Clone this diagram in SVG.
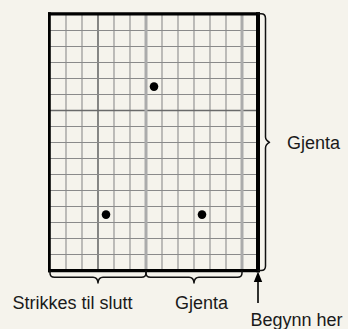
<svg xmlns="http://www.w3.org/2000/svg" width="348" height="329" viewBox="0 0 348 329">
  <style>
    .v { stroke: #9c9c9c; stroke-width: 1.3; }
    .h { stroke: #8a8a8a; stroke-width: 1.2; }
    .dk { stroke: #6a6a6a; stroke-width: 1.6; }
    .rep { stroke: #ababab; stroke-width: 3; }
    .brace { fill: none; stroke: #111; stroke-width: 1.5; stroke-linejoin: round; stroke-linecap: round; }
    .lbl { font-family: "Liberation Sans", Arial, sans-serif; font-size: 18px; fill: #1a1a1a; }
    .dot { fill: #000; }
  </style>
  <rect width="348" height="329" fill="#f5f3ec"/>
  <g id="grid">
    <g id="vlines">
      <line class="v" x1="66" y1="14" x2="66" y2="270"/>
      <line class="v" x1="82" y1="14" x2="82" y2="270"/>
      <line class="dk" x1="98" y1="14" x2="98" y2="270"/>
      <line class="v" x1="114" y1="14" x2="114" y2="270"/>
      <line class="v" x1="130" y1="14" x2="130" y2="270"/>
      <line class="v" x1="162" y1="14" x2="162" y2="270"/>
      <line class="v" x1="178" y1="14" x2="178" y2="270"/>
      <line class="v" x1="194" y1="14" x2="194" y2="270"/>
      <line class="v" x1="210" y1="14" x2="210" y2="270"/>
      <line class="v" x1="226" y1="14" x2="226" y2="270"/>
    </g>
    <g id="hlines">
      <line class="h" x1="50" y1="30.5" x2="258" y2="30.5"/>
      <line class="h" x1="50" y1="46.5" x2="258" y2="46.5"/>
      <line class="h" x1="50" y1="62.5" x2="258" y2="62.5"/>
      <line class="h" x1="50" y1="78.5" x2="258" y2="78.5"/>
      <line class="h" x1="50" y1="94.5" x2="258" y2="94.5"/>
      <line class="dk" x1="50" y1="110.5" x2="258" y2="110.5"/>
      <line class="h" x1="50" y1="126.5" x2="258" y2="126.5"/>
      <line class="h" x1="50" y1="142.5" x2="258" y2="142.5"/>
      <line class="h" x1="50" y1="158.5" x2="258" y2="158.5"/>
      <line class="h" x1="50" y1="174.5" x2="258" y2="174.5"/>
      <line class="h" x1="50" y1="190.5" x2="258" y2="190.5"/>
      <line class="h" x1="50" y1="206.5" x2="258" y2="206.5"/>
      <line class="h" x1="50" y1="222.5" x2="258" y2="222.5"/>
      <line class="h" x1="50" y1="238.5" x2="258" y2="238.5"/>
      <line class="h" x1="50" y1="254.5" x2="258" y2="254.5"/>
    </g>
    <g id="repeat-lines">
      <line class="rep" x1="146" y1="14" x2="146" y2="270"/>
      <line class="rep" x1="242" y1="14" x2="242" y2="270"/>
    </g>
    <g id="border" stroke="#000">
      <line x1="48" y1="13.8" x2="260" y2="13.8" stroke-width="3.2"/>
      <line x1="49.4" y1="12.2" x2="49.4" y2="272.2" stroke-width="2.8"/>
      <line x1="48" y1="270.6" x2="260" y2="270.6" stroke-width="3.4"/>
      <line x1="258" y1="12.2" x2="258" y2="272.3" stroke-width="4"/>
    </g>
  </g>
  <g id="dots">
    <circle class="dot" cx="154" cy="86.6" r="4.3"/>
    <circle class="dot" cx="106" cy="214.6" r="4.3"/>
    <circle class="dot" cx="202" cy="214.6" r="4.3"/>
  </g>
  <g id="connectors">
    <path id="brace-right" class="brace" d="M258,13.8 H261 Q265.5,13.8 265.5,18.5 V137 Q265.5,140 269.5,142.3 Q265.5,144.6 265.5,148 V266 Q265.5,270.6 261,270.6 H258"/>
    <path id="brace-left" class="brace" d="M50,271 V273 Q50,277.3 54.5,277.3 H93 Q97.5,277.3 98,283 Q98.5,277.3 103,277.3 H141.5 Q146,277.3 146,273 V271"/>
    <path id="brace-mid" class="brace" d="M146,271 V273 Q146,277.3 150.5,277.3 H189 Q193.5,277.3 194,283 Q194.5,277.3 199,277.3 H237.5 Q242,277.3 242,273 V271"/>
    <g id="arrow-start">
      <line x1="258" y1="303" x2="258" y2="280" stroke="#000" stroke-width="1.6"/>
      <polygon points="258,271.5 262.2,282 253.8,282" fill="#000"/>
    </g>
  </g>
  <g id="labels">
    <text class="lbl" x="287" y="149.3">Gjenta</text>
    <text class="lbl" x="12.5" y="309.3">Strikkes til slutt</text>
    <text class="lbl" x="175" y="309.3">Gjenta</text>
    <text class="lbl" x="250.5" y="325.5">Begynn her</text>
  </g>
</svg>
